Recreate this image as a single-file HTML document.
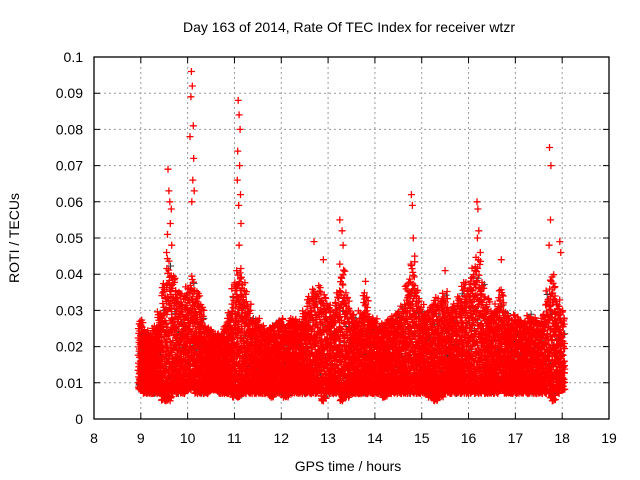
<!DOCTYPE html>
<html><head><meta charset="utf-8"><style>
body{margin:0;background:#fff}
svg{display:block;font-family:"Liberation Sans",sans-serif}
</style></head><body>
<svg id="chart" width="640" height="480">
<text x="349" y="32" font-size="14" text-anchor="middle">Day 163 of 2014, Rate Of TEC Index for receiver wtzr</text>
<text x="348" y="471" font-size="14" text-anchor="middle">GPS time / hours</text>
<text transform="translate(19,238) rotate(-90)" font-size="14" text-anchor="middle">ROTI / TECUs</text>
<g id="grid"></g><g id="marks"></g>
<rect x="94" y="57" width="515" height="362" fill="none" stroke="#000" stroke-width="1.3"/>
</svg>
<script>
const xTicks=[8,9,10,11,12,13,14,15,16,17,18,19];
const yTicks=[0,0.01,0.02,0.03,0.04,0.05,0.06,0.07,0.08,0.09,0.1];
const yTickLabels=["0","0.01","0.02","0.03","0.04","0.05","0.06","0.07","0.08","0.09","0.1"];
const binStart=9.0, binStep=0.1;
const bandHigh=[2.8,2.5,2.4,2.6,3.0,3.8,4.5,4.0,3.6,3.5,3.7,4.0,3.6,3.2,2.6,2.5,2.4,2.4,2.6,3.0,3.8,4.2,3.8,3.2,2.8,2.8,2.6,2.5,2.6,2.7,2.8,2.6,2.8,2.8,2.7,3.0,3.4,3.6,3.7,3.5,3.2,3.0,3.5,4.3,3.5,3.0,2.8,3.0,3.5,2.9,2.8,2.6,2.7,2.8,2.9,3.0,3.2,3.8,4.4,3.6,3.2,3.0,3.2,3.4,3.3,3.6,3.1,3.2,3.4,3.8,3.8,4.2,4.5,3.8,3.4,3.0,3.2,3.6,3.0,2.8,2.9,2.8,2.7,2.9,2.8,2.7,2.9,3.6,4.0,3.3,3.0];
const bandLow=[0.8,0.7,0.7,0.7,0.7,0.5,0.5,0.7,0.7,0.7,0.8,0.8,0.7,0.7,0.7,0.8,0.8,0.7,0.7,0.7,0.6,0.6,0.7,0.7,0.7,0.7,0.7,0.7,0.6,0.7,0.7,0.6,0.7,0.7,0.7,0.7,0.7,0.7,0.7,0.5,0.7,0.7,0.7,0.5,0.6,0.7,0.7,0.7,0.7,0.7,0.7,0.7,0.6,0.7,0.7,0.7,0.7,0.7,0.7,0.7,0.7,0.7,0.6,0.5,0.6,0.7,0.7,0.7,0.7,0.7,0.7,0.7,0.7,0.7,0.7,0.7,0.7,0.8,0.7,0.7,0.7,0.7,0.7,0.7,0.7,0.7,0.7,0.7,0.5,0.7,0.8];
const spikeTimes=[9.58,9.6,9.62,9.63,9.65,9.57,9.66,9.55,10.08,10.1,10.07,10.12,10.05,10.13,10.11,10.14,10.09,11.08,11.1,11.12,11.07,11.11,11.06,11.13,11.09,11.14,11.1,12.7,12.9,13.25,13.3,13.32,14.78,14.8,14.82,14.85,16.18,16.2,16.22,16.19,16.25,17.73,17.76,17.75,17.72,17.95,17.97,15.5,13.8,16.7];
const spikeValues=[6.9,6.3,6.0,5.4,5.8,5.1,4.8,4.6,9.6,9.2,8.9,8.1,7.8,7.2,6.6,6.3,6.0,8.8,8.4,8.0,7.4,7.0,6.6,6.2,5.9,5.4,4.8,4.9,4.4,5.5,5.2,4.8,6.2,5.9,5.0,4.5,6.0,5.8,5.2,5.0,4.6,7.5,7.0,5.5,4.8,4.9,4.6,4.1,3.8,4.4];
const X=t=>94+(t-8)*(515/11);
const Y=v=>419-v*3620;
const ns="http://www.w3.org/2000/svg";
const grid=document.getElementById('grid'), marks=document.getElementById('marks');
function mk(tag,attrs,parent){const e=document.createElementNS(ns,tag);for(const k in attrs)e.setAttribute(k,attrs[k]);parent.appendChild(e);return e;}
xTicks.forEach((t,i)=>{
  const x=X(t);
  if(i>0&&i<xTicks.length-1){const g=mk('line',{x1:x,x2:x,y1:57,y2:419,stroke:'#999','stroke-dasharray':'2,3'},grid);
  
  }
  const tk=mk('path',{d:`M${x} 419v-6M${x} 57v6`,stroke:'#000'},grid);
  
  
  const l=mk('text',{x:x,y:443,'font-size':14,'text-anchor':'middle'},grid);l.textContent=t;
  
  
});
yTicks.forEach((v,i)=>{
  const y=Y(v);
  if(i>0&&i<yTicks.length-1){const g=mk('line',{x1:94,x2:609,y1:y,y2:y,stroke:'#999','stroke-dasharray':'2,3'},grid);
  
  }
  const tk=mk('path',{d:`M94 ${y}h6M609 ${y}h-6`,stroke:'#000'},grid);
  
  
  const l=mk('text',{x:83,y:y+5,'font-size':14,'text-anchor':'end'},grid);l.textContent=yTickLabels[i];
  
  
});
function vdc(n,b){let r=0,f=1/b;while(n>0){r+=f*(n%b);n=Math.floor(n/b);f/=b;}return r;}
const cross=(x,y)=>`M${(x-3.5).toFixed(1)} ${y.toFixed(1)}h7M${x.toFixed(1)} ${(y-3.5).toFixed(1)}v7`;
let d='';let dg='';
const perBin=75;
bandHigh.forEach((hi,i)=>{
  const lo=bandLow[i], t=binStart+i*binStep;
  for(let k=0;k<perBin;k++){
    const fx=vdc(k+1+i*7,2)-0.5, fy=Math.pow(vdc(k+1+i*5,3),1.4);
    const v=(lo+(hi-lo)*fy)/100;
    const s=cross(X(t+fx*binStep*1.15),Y(v));
    if(k%29===11) dg+=s; else d+=s;
  }
});
const pg=mk('path',{d:dg,stroke:'#333','stroke-width':1,fill:'none'},marks);


const p=mk('path',{d:d,stroke:'#f00','stroke-width':1.3,fill:'none'},marks);


let ds='';
spikeTimes.forEach((t,i)=>{ds+=cross(X(t),Y(spikeValues[i]/100));});
const ps=mk('path',{d:ds,stroke:'#f00','stroke-width':1.3,fill:'none'},marks);


</script>
</body></html>
